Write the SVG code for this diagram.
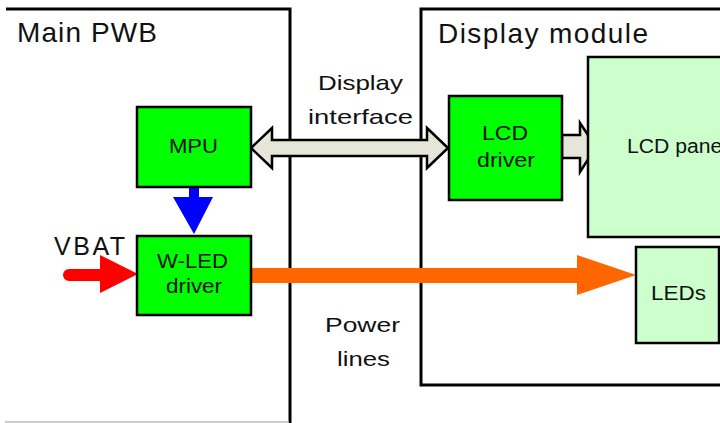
<svg xmlns="http://www.w3.org/2000/svg" width="720" height="423" viewBox="0 0 720 423">
<style>
text{font-family:"Liberation Sans",Arial,sans-serif;fill:#111}
.frame{fill:none;stroke:#000;stroke-width:3}
.blk{fill:#00ff00;stroke:#000;stroke-width:2.5}
.pale{fill:#ccffcc;stroke:#000;stroke-width:2.5}
.lbl{font-size:20px}
.mid{font-size:21px}
.big{font-size:28px}
.bus{fill:#e6e6d8;stroke:#000;stroke-width:2.5;stroke-linejoin:miter}
</style>
<rect width="720" height="423" fill="#fff"/>
<g id="main-pwb">
<polyline class="frame" points="6,9 290,9 290,423"/>
<line x1="5" y1="422" x2="289" y2="422" stroke="#bbb" stroke-width="1.5"/>
<text class="big" x="17" y="42" textLength="140">Main PWB</text>
</g>
<g id="display-module">
<polyline class="frame" points="722,9 421,9 421,385 722,385"/>
<text class="big" x="438" y="43" textLength="210">Display module</text>
</g>
<g id="connectors">
<path class="bus" d="M251,148 L272,128 L272,140 L427,140 L427,128 L448,148 L427,168 L427,156 L272,156 L272,168 Z"/>
<path class="bus" d="M562,135 L580,135 L580,123 L596,147 L580,172 L580,158 L562,158 Z"/>
<path d="M189,187 L199,187 L199,197 L213,197 L194,234 L173,197 L189,197 Z" fill="#0000ff"/>
<path d="M69,269 L100,269 L100,255 L138,274 L100,293 L100,281 L69,281 A6,6 0 0 1 69,269 Z" fill="#ff0000"/>
<path d="M251,268 L577,268 L577,255 L636,275 L577,295 L577,283 L251,283 Z" fill="#ff6600"/>
<text class="mid" x="318" y="90" textLength="85" lengthAdjust="spacingAndGlyphs">Display</text>
<text class="mid" x="308" y="124" textLength="105" lengthAdjust="spacingAndGlyphs">interface</text>
<text class="mid" x="325" y="332" textLength="75" lengthAdjust="spacingAndGlyphs">Power</text>
<text class="mid" x="337" y="366" textLength="53" lengthAdjust="spacingAndGlyphs">lines</text>
<text x="54" y="255" style="font-size:25px" textLength="71">VBAT</text>
</g>
<g id="mpu">
<rect class="blk" x="137" y="107" width="114" height="80"/>
<text class="lbl" x="169" y="153" textLength="49" lengthAdjust="spacingAndGlyphs">MPU</text>
</g>
<g id="wled-driver">
<rect class="blk" x="137" y="236" width="114" height="79"/>
<text class="lbl" x="157" y="268" textLength="71" lengthAdjust="spacingAndGlyphs">W-LED</text>
<text class="lbl" x="166" y="293" textLength="56" lengthAdjust="spacingAndGlyphs">driver</text>
</g>
<g id="lcd-driver">
<rect class="blk" x="449" y="96" width="113" height="104"/>
<text class="mid" x="482" y="140" textLength="46" lengthAdjust="spacingAndGlyphs">LCD</text>
<text class="mid" x="477" y="167" textLength="58" lengthAdjust="spacingAndGlyphs">driver</text>
</g>
<g id="lcd-panel">
<rect class="pale" x="588" y="57" width="140" height="180"/>
<text x="627" y="153" style="font-size:20px" textLength="100" lengthAdjust="spacingAndGlyphs">LCD panel</text>
</g>
<g id="leds">
<rect class="pale" x="636" y="247" width="83" height="96"/>
<text class="lbl" x="651" y="300" textLength="55" lengthAdjust="spacingAndGlyphs">LEDs</text>
</g>
</svg>
